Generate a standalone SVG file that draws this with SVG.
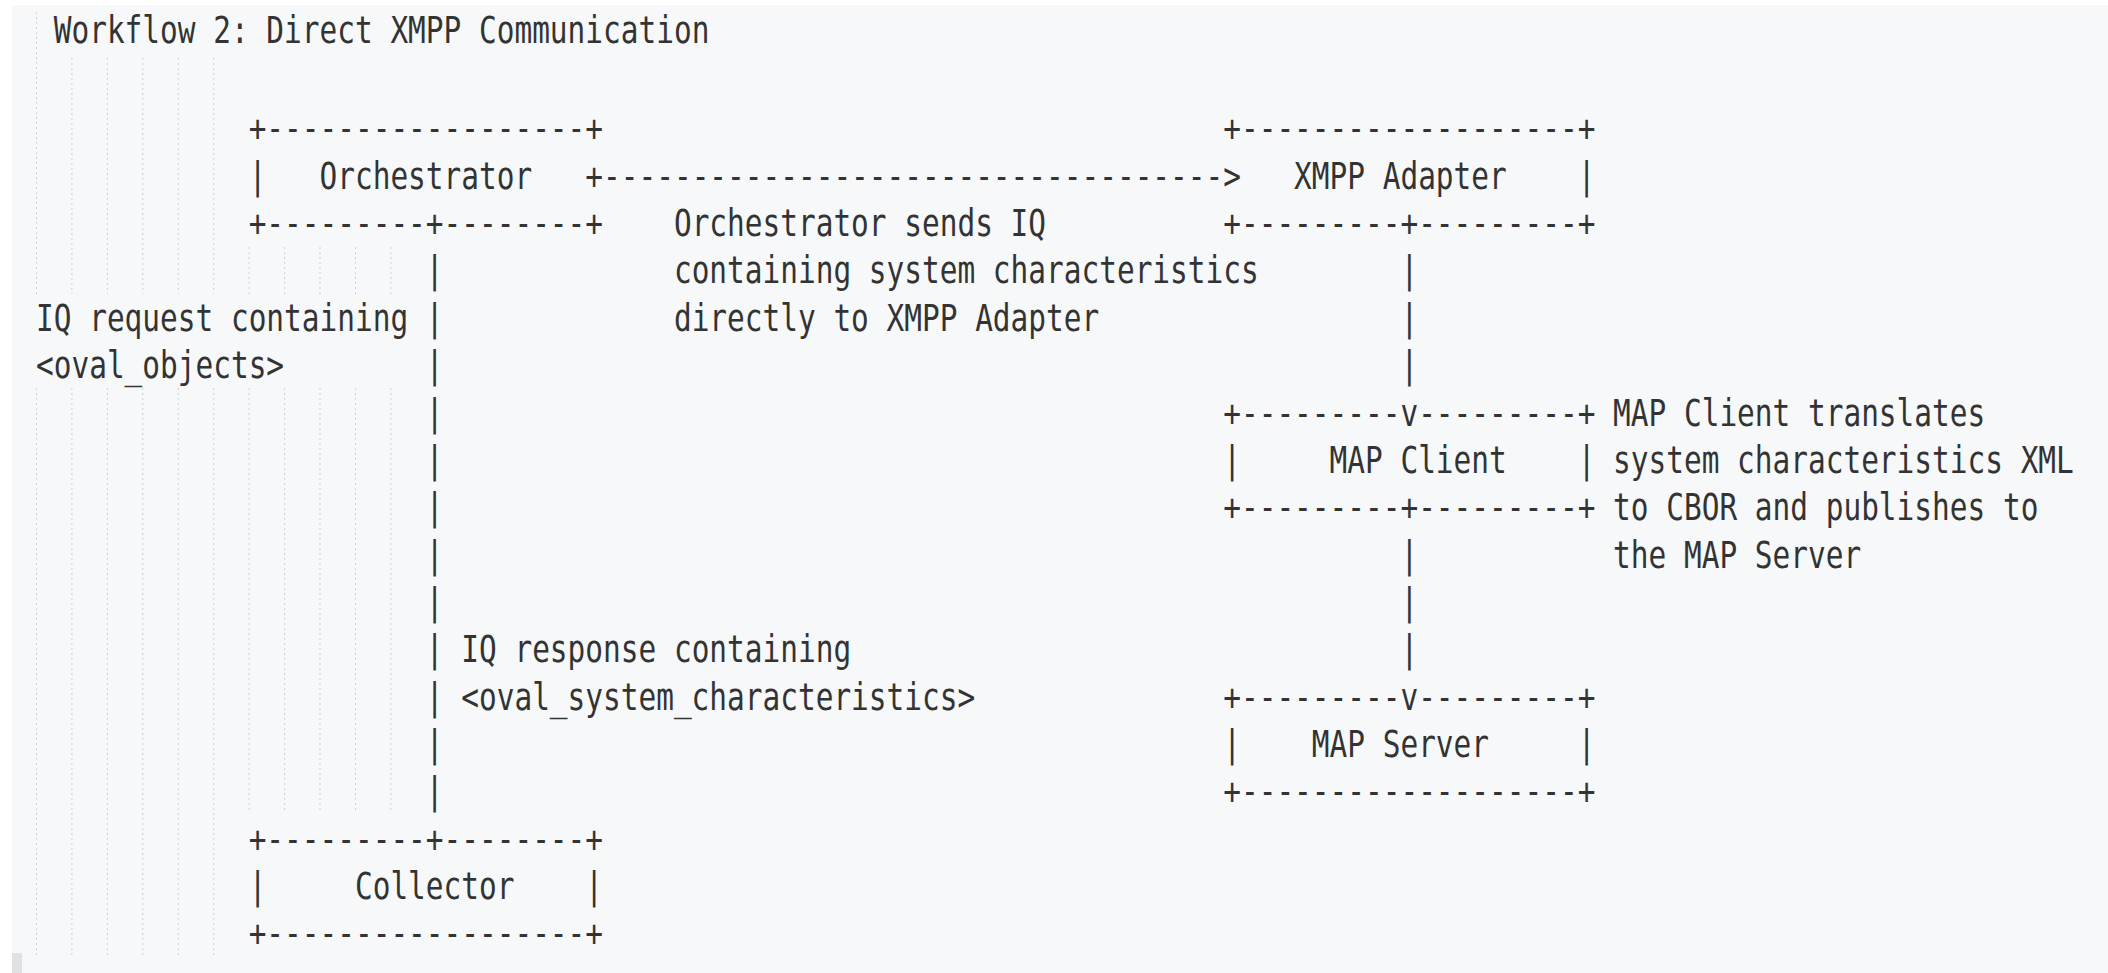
<svg xmlns="http://www.w3.org/2000/svg" width="2108" height="973" viewBox="0 0 2108 973">
<style>
.t{font-family:"DejaVu Sans Mono","Liberation Mono",monospace;font-size:36.5px;fill:#333333;white-space:pre}
.g{stroke:#cdd1d4;stroke-width:1;stroke-dasharray:2 3;fill:none}
</style>
<rect x="0" y="0" width="2108" height="973" fill="#ffffff"/>
<rect x="12" y="5" width="2096" height="968" fill="#f6f8f9"/>
<rect x="12" y="953" width="10" height="20" fill="#dfe2e5"/>
<g id="indent-guides">
<path class="g" d="M36.5 12V294M36.5 388V955"/>
<path class="g" d="M71.9 58V294M71.9 388V955M107.4 58V294M107.4 388V955M142.8 58V294M142.8 388V955M178.3 58V294M178.3 388V955M213.7 58V294M213.7 388V955"/>
<path class="g" d="M249.1 247V294M249.1 388V812M284.6 247V294M284.6 388V812M320 247V294M320 388V812M355.5 247V294M355.5 388V812M390.9 247V294M390.9 388V812"/>
</g>
<g id="title"><text class="t" x="53.72" y="43" textLength="655.64" lengthAdjust="spacingAndGlyphs">Workflow 2: Direct XMPP Communication</text></g>
<g id="orchestrator">
<text class="t" x="248.64" y="141.4" textLength="354.4" lengthAdjust="spacingAndGlyphs">+------------------+</text>
<text class="t" x="248.64" y="188.75" textLength="283.52" lengthAdjust="spacingAndGlyphs">|   Orchestrator</text>
<text class="t" x="248.64" y="236.1" textLength="354.4" lengthAdjust="spacingAndGlyphs">+---------+--------+</text>
</g>
<g id="xmpp-adapter">
<text class="t" x="1223.24" y="141.4" textLength="372.12" lengthAdjust="spacingAndGlyphs">+-------------------+</text>
<text class="t" x="1294.12" y="188.75" textLength="301.24" lengthAdjust="spacingAndGlyphs">XMPP Adapter    |</text>
<text class="t" x="1223.24" y="236.1" textLength="372.12" lengthAdjust="spacingAndGlyphs">+---------+---------+</text>
</g>
<g id="map-client">
<text class="t" x="1223.24" y="425.5" textLength="372.12" lengthAdjust="spacingAndGlyphs">+---------v---------+</text>
<text class="t" x="1223.24" y="472.85" textLength="372.12" lengthAdjust="spacingAndGlyphs">|     MAP Client    |</text>
<text class="t" x="1223.24" y="520.2" textLength="372.12" lengthAdjust="spacingAndGlyphs">+---------+---------+</text>
</g>
<g id="map-server">
<text class="t" x="1223.24" y="709.6" textLength="372.12" lengthAdjust="spacingAndGlyphs">+---------v---------+</text>
<text class="t" x="1223.24" y="756.95" textLength="372.12" lengthAdjust="spacingAndGlyphs">|    MAP Server     |</text>
<text class="t" x="1223.24" y="804.3" textLength="372.12" lengthAdjust="spacingAndGlyphs">+-------------------+</text>
</g>
<g id="collector">
<text class="t" x="248.64" y="851.65" textLength="354.4" lengthAdjust="spacingAndGlyphs">+---------+--------+</text>
<text class="t" x="248.64" y="899" textLength="354.4" lengthAdjust="spacingAndGlyphs">|     Collector    |</text>
<text class="t" x="248.64" y="946.35" textLength="354.4" lengthAdjust="spacingAndGlyphs">+------------------+</text>
</g>
<g id="connectors">
<text class="t" x="585.32" y="188.75" textLength="655.64" lengthAdjust="spacingAndGlyphs">+-----------------------------------&gt;</text>
<text class="t" x="425.84" y="283.45" textLength="17.72" lengthAdjust="spacingAndGlyphs">|</text>
<text class="t" x="425.84" y="330.8" textLength="17.72" lengthAdjust="spacingAndGlyphs">|</text>
<text class="t" x="425.84" y="378.15" textLength="17.72" lengthAdjust="spacingAndGlyphs">|</text>
<text class="t" x="425.84" y="425.5" textLength="17.72" lengthAdjust="spacingAndGlyphs">|</text>
<text class="t" x="425.84" y="472.85" textLength="17.72" lengthAdjust="spacingAndGlyphs">|</text>
<text class="t" x="425.84" y="520.2" textLength="17.72" lengthAdjust="spacingAndGlyphs">|</text>
<text class="t" x="425.84" y="567.55" textLength="17.72" lengthAdjust="spacingAndGlyphs">|</text>
<text class="t" x="425.84" y="614.9" textLength="17.72" lengthAdjust="spacingAndGlyphs">|</text>
<text class="t" x="425.84" y="662.25" textLength="17.72" lengthAdjust="spacingAndGlyphs">|</text>
<text class="t" x="425.84" y="709.6" textLength="17.72" lengthAdjust="spacingAndGlyphs">|</text>
<text class="t" x="425.84" y="756.95" textLength="17.72" lengthAdjust="spacingAndGlyphs">|</text>
<text class="t" x="425.84" y="804.3" textLength="17.72" lengthAdjust="spacingAndGlyphs">|</text>
<text class="t" x="1400.44" y="283.45" textLength="17.72" lengthAdjust="spacingAndGlyphs">|</text>
<text class="t" x="1400.44" y="330.8" textLength="17.72" lengthAdjust="spacingAndGlyphs">|</text>
<text class="t" x="1400.44" y="378.15" textLength="17.72" lengthAdjust="spacingAndGlyphs">|</text>
<text class="t" x="1400.44" y="567.55" textLength="17.72" lengthAdjust="spacingAndGlyphs">|</text>
<text class="t" x="1400.44" y="614.9" textLength="17.72" lengthAdjust="spacingAndGlyphs">|</text>
<text class="t" x="1400.44" y="662.25" textLength="17.72" lengthAdjust="spacingAndGlyphs">|</text>
</g>
<g id="labels">
<text class="t" x="673.92" y="236.1" textLength="372.12" lengthAdjust="spacingAndGlyphs">Orchestrator sends IQ</text>
<text class="t" x="673.92" y="283.45" textLength="584.76" lengthAdjust="spacingAndGlyphs">containing system characteristics</text>
<text class="t" x="673.92" y="330.8" textLength="425.28" lengthAdjust="spacingAndGlyphs">directly to XMPP Adapter</text>
<text class="t" x="36" y="330.8" textLength="372.12" lengthAdjust="spacingAndGlyphs">IQ request containing</text>
<text class="t" x="36" y="378.15" textLength="248.08" lengthAdjust="spacingAndGlyphs">&lt;oval_objects&gt;</text>
<text class="t" x="461.28" y="662.25" textLength="389.84" lengthAdjust="spacingAndGlyphs">IQ response containing</text>
<text class="t" x="461.28" y="709.6" textLength="513.88" lengthAdjust="spacingAndGlyphs">&lt;oval_system_characteristics&gt;</text>
<text class="t" x="1613.08" y="425.5" textLength="372.12" lengthAdjust="spacingAndGlyphs">MAP Client translates</text>
<text class="t" x="1613.08" y="472.85" textLength="460.72" lengthAdjust="spacingAndGlyphs">system characteristics XML</text>
<text class="t" x="1613.08" y="520.2" textLength="425.28" lengthAdjust="spacingAndGlyphs">to CBOR and publishes to</text>
<text class="t" x="1613.08" y="567.55" textLength="248.08" lengthAdjust="spacingAndGlyphs">the MAP Server</text>
</g>
</svg>
